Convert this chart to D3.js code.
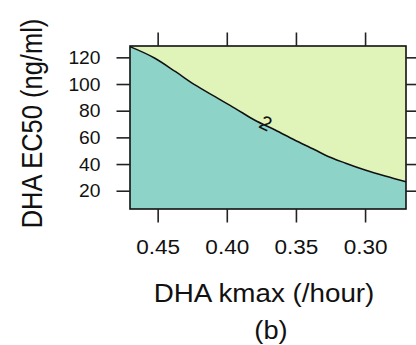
<!DOCTYPE html>
<html><head><meta charset="utf-8">
<script src="https://cdn.jsdelivr.net/npm/d3@7"></script>
<style>html,body{margin:0;padding:0;background:#fff;}svg{display:block;font-family:Arial,"Liberation Sans",sans-serif;}</style>
</head><body>
<script>
// Contour line (level 2)
const kmax = [0.470, 0.452, 0.437, 0.423, 0.4085, 0.394, 0.380, 0.365, 0.351, 0.336, 0.329, 0.314, 0.300, 0.2855, 0.2704];
const ec50 = [128.0, 119.3, 109.2, 99.3, 90.5, 81.8, 73.0, 65.5, 58.0, 50.5, 46.8, 40.6, 35.5, 31.0, 26.8];
const xTicks = [0.45, 0.40, 0.35, 0.30];
const yTicks = [20, 40, 60, 80, 100, 120];
const contourLabel = "2";
const xDomain = [0.47, 0.2704];
const yDomain = [6.3, 128.5];

const W = 416, H = 345;
const L = 130, R = 406, T = 46, B = 209;
const sx = 1.1; // horizontal stretch of the reference text

const svg = d3.select("body").append("svg").attr("width", W).attr("height", H);
svg.append("rect").attr("width", W).attr("height", H).attr("fill", "#fff");

const x = d3.scaleLinear().domain(xDomain).range([L, R]);
const y = d3.scaleLinear().domain(yDomain).range([B, T]);

const pts = kmax.map((k, i) => ({k, e: ec50[i]}));

svg.append("path").datum(pts)
  .attr("fill", "#e0f3b9")
  .attr("d", d3.area().x(d => x(d.k)).y0(y(yDomain[1])).y1(d => y(d.e)).curve(d3.curveMonotoneX));
svg.append("path").datum(pts)
  .attr("fill", "#8ed3c7")
  .attr("d", d3.area().x(d => x(d.k)).y0(y(yDomain[0])).y1(d => y(d.e)).curve(d3.curveMonotoneX));
svg.append("path").datum(pts)
  .attr("fill", "none").attr("stroke", "#111").attr("stroke-width", 1.5)
  .attr("d", d3.line().x(d => x(d.k)).y(d => y(d.e)).curve(d3.curveMonotoneX));

// contour label
const li = 6;
const lx = (x(kmax[li]) + x(kmax[li+1])) / 2 + 1, ly = (y(ec50[li]) + y(ec50[li+1])) / 2 - 2;
const ang = Math.atan2(y(ec50[li+1]) - y(ec50[li]), x(kmax[li+1]) - x(kmax[li])) * 180 / Math.PI;
svg.append("text").text(contourLabel)
  .attr("transform", `translate(${lx},${ly}) rotate(${ang})`)
  .attr("text-anchor", "middle").attr("dy", "0.35em")
  .attr("font-size", 20).attr("fill", "#111");

svg.append("rect").attr("x", L).attr("y", T).attr("width", R - L).attr("height", B - T)
  .attr("fill", "none").attr("stroke", "#111").attr("stroke-width", 1.6);

const tk = 13.5;
const axB = svg.append("g").attr("transform", `translate(0,${B})`)
  .call(d3.axisBottom(x).tickValues(xTicks).tickSize(tk).tickFormat(d3.format(".2f")));
const axT = svg.append("g").attr("transform", `translate(0,${T})`)
  .call(d3.axisTop(x).tickValues(xTicks).tickSize(tk).tickFormat(""));
const axL = svg.append("g").attr("transform", `translate(${L},0)`)
  .call(d3.axisLeft(y).tickValues(yTicks).tickSize(tk).tickFormat(d3.format("d")));
const axR = svg.append("g").attr("transform", `translate(${R},0)`)
  .call(d3.axisRight(y).tickValues(yTicks).tickSize(tk).tickFormat(""));
[axB, axT, axL, axR].forEach(a => {
  a.select(".domain").remove();
  a.attr("font-family", null).attr("font-size", null);
  a.selectAll(".tick line").attr("stroke", "#222").attr("stroke-width", 1.6);
});
axB.selectAll(".tick text").attr("font-size", 20.5).attr("fill", "#111")
  .attr("y", null).attr("dy", null)
  .attr("transform", `translate(0,${254 - B}) scale(${sx},1)`);
axL.selectAll(".tick text").attr("font-size", 17.5).attr("fill", "#111")
  .attr("x", null).attr("dy", "0.35em")
  .attr("transform", `translate(${100.5 - L},0) scale(${sx},1)`);

svg.append("text").text("DHA kmax (/hour)")
  .attr("transform", `translate(264,301.5) scale(1.09,1)`)
  .attr("text-anchor", "middle").attr("font-size", 25.5).attr("fill", "#111");
svg.append("text").text("(b)")
  .attr("transform", `translate(271,338.5) scale(1.09,1)`)
  .attr("text-anchor", "middle").attr("font-size", 25).attr("fill", "#111");
svg.append("text").text("DHA EC50 (ng/ml)")
  .attr("transform", `translate(41.5,123.5) rotate(-90) scale(1,1.15)`)
  .attr("text-anchor", "middle").attr("font-size", 25.5).attr("fill", "#111");
</script>
</body></html>
